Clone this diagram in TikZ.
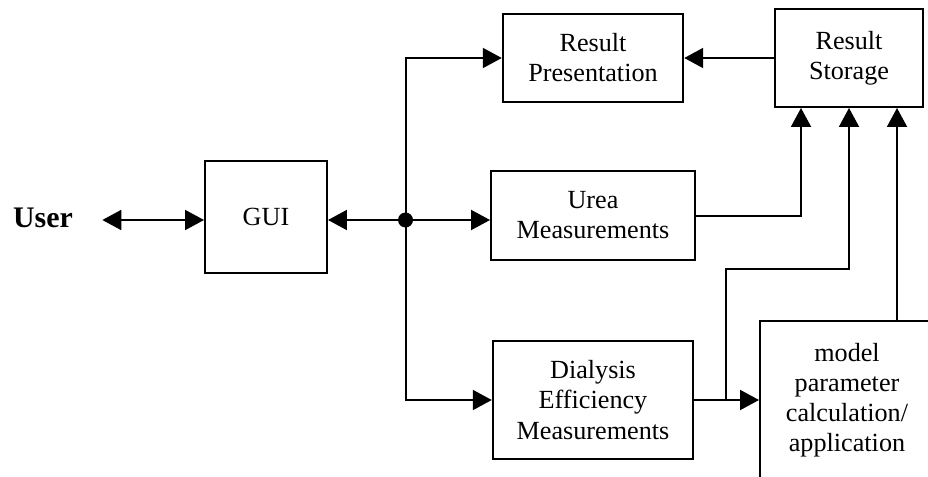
\documentclass[tikz,border=0pt]{standalone}
\usepackage{fontspec}
\setmainfont{Liberation Serif}
\usetikzlibrary{arrows.meta}

\begin{document}
\begin{tikzpicture}[x=0.02cm,y=-0.02cm,line width=0.04cm,
    >={Triangle[length=0.38cm,width=0.4cm]},
    blk/.style={draw,align=center,inner sep=0pt,font=\fontsize{14.9}{17.1}\selectfont}]
    \clip (0,0) rectangle (928,476);
    \node[inner sep=0pt,font=\bfseries\fontsize{17}{20}\selectfont] (user) at (43,218) {User};
    \node[blk,minimum width=2.44cm,minimum height=2.24cm] (gui) at (266,217) {GUI};
    \node[blk,minimum width=3.61cm,minimum height=1.75cm] (pres) at (593,58) {Result\\Presentation};
    \node[blk,minimum width=2.97cm,minimum height=1.96cm] (store) at (849,58) {Result\\Storage};
    \node[blk,minimum width=4.08cm,minimum height=1.78cm] (urea) at (593,215.5) {Urea\\Measurements};
    \node[blk,minimum width=4.01cm,minimum height=2.37cm] (dial) at (593,400) {Dialysis\\Efficiency\\Measurements};
    \node[blk,minimum width=3.48cm,minimum height=3.16cm] (model) at (847,400) {model\\parameter\\calculation/\\application};
    % bus from the GUI
    \coordinate (hub) at (405.5,220);
    \draw[<->,shorten <=0.57cm] (user.east |- hub) -- (gui.west |- hub);
    \draw[->] (hub) -- (gui.east |- hub);
    \draw[->] (hub) -- (urea.west |- hub);
    \draw[->] (hub) |- (pres.west);
    \draw[->] (hub) |- (dial.west);
    \fill (hub) circle (0.15cm);
    % into the storage
    \draw[->] (store.west) -- (pres.east);
    \foreach \s/\dx in {1/-48,2/0,3/48} {
      \coordinate (s\s) at ([shift={(\dx,0)}]store.south);
    }
    \draw[->] (urea.east) -| (s1);
    \draw[->] (dial.east) -- (model.west);
    \coordinate (tap) at ([shift={(31.7,0)}]dial.east);
    \draw[->] (tap) -- ++(0,-131) -| (s2);
    \draw[->] (s3 |- model.north) -- (s3);
\end{tikzpicture}
\end{document}
